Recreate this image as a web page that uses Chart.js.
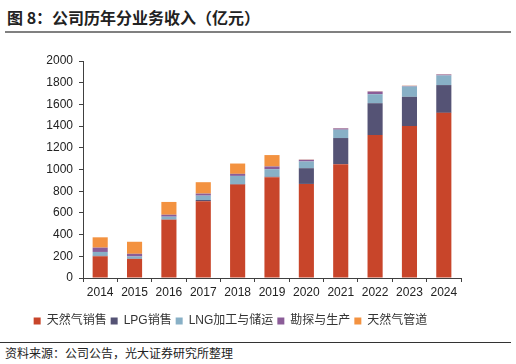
<!DOCTYPE html>
<html>
<head>
<meta charset="utf-8">
<script src="https://cdn.jsdelivr.net/npm/chart.js@4"></script>
<style>
	body { margin: 0; background: #fff; width: 516px; height: 364px; position: relative; overflow: hidden; }
	#title { position: absolute; left: 7px; top: 5px; font: bold 16px "Noto Sans CJK SC", sans-serif; color: #222; white-space: nowrap; }
	#titleLine { position: absolute; left: 5px; top: 31px; width: 506px; height: 2px; background: #808080; }
	#wrap { position: absolute; left: 0; top: 0; width: 516px; height: 340px; }
	#srcLine { position: absolute; left: 0; top: 342px; width: 511px; height: 1px; background: #333; }
	#source { position: absolute; left: 5px; top: 344px; font: 12px "Noto Sans CJK SC", sans-serif; color: #222; white-space: nowrap; }
</style>
</head>
<body>
<div id="title">图 8：公司历年分业务收入（亿元）</div>
<div id="titleLine"></div>
<div id="wrap"><canvas id="revenueChart"></canvas></div>
<div id="srcLine"></div>
<div id="source">资料来源：公司公告，光大证券研究所整理</div>
<script>
const years = ['2014', '2015', '2016', '2017', '2018', '2019', '2020', '2021', '2022', '2023', '2024'];
const gasSales = [200, 176, 537, 707, 861, 929, 867, 1049, 1318, 1401, 1522];
const lpgSales = [5, 2, 3, 12, 5, 5, 145, 241, 293, 269, 256];
const lngProcessing = [35, 20, 25, 40, 75, 69, 62, 77, 83, 95, 89];
const exploration = [40, 25, 18, 19, 19, 25, 16, 12, 25, 6, 9];
const pipeline = [95, 111, 118, 105, 95, 105, 2, 2, 2, 2, 2];
const yTicks = [0, 200, 400, 600, 800, 1000, 1200, 1400, 1600, 1800, 2000];

const fontFamily = '"Liberation Sans", "Noto Sans CJK SC", sans-serif';
const ctx = document.getElementById('revenueChart').getContext('2d');

new Chart(ctx, {
	type: 'bar',
	data: {
		labels: years,
		datasets: [
			{ label: '天然气销售', data: gasSales, backgroundColor: '#C8452A' },
			{ label: 'LPG销售', data: lpgSales, backgroundColor: '#555375' },
			{ label: 'LNG加工与储运', data: lngProcessing, backgroundColor: '#88B0C6' },
			{ label: '勘探与生产', data: exploration, backgroundColor: '#8B5D98' },
			{ label: '天然气管道', data: pipeline, backgroundColor: '#F39240' },
		]
	},
	options: {
		responsive: true,
		maintainAspectRatio: false,
		animation: false,
		datasets: { bar: { barPercentage: 0.44, categoryPercentage: 1 } },
		layout: { padding: { left: 0, right: 55, top: 61, bottom: 3 } },
		plugins: {
			tooltip: { enabled: false },
			legend: {
				position: 'bottom',
				labels: {
					boxWidth: 7,
					boxHeight: 7,
					padding: 4,
					color: '#333',
					font: { family: fontFamily, size: 12 }
				}
			}
		},
		scales: {
			x: {
				stacked: true,
				afterFit: s => { s.height = 33; },
				border: { display: true, color: '#404040', width: 1 },
				grid: { drawOnChartArea: false, drawTicks: true, tickLength: 4, color: '#404040', offset: true },
				ticks: { color: '#222', padding: 3, font: { family: fontFamily, size: 12 } }
			},
			y: {
				stacked: true,
				min: 0,
				max: 2000,
				afterFit: s => { s.width = 83; },
				afterBuildTicks: s => { s.ticks = yTicks.map(v => ({ value: v })); },
				border: { display: true, color: '#404040', width: 1 },
				grid: { drawOnChartArea: false, drawTicks: true, tickLength: 4, color: '#404040' },
				ticks: { color: '#222', padding: 6, callback: v => String(v), font: { family: fontFamily, size: 12 } }
			}
		}
	}
});
</script>
</body>
</html>
